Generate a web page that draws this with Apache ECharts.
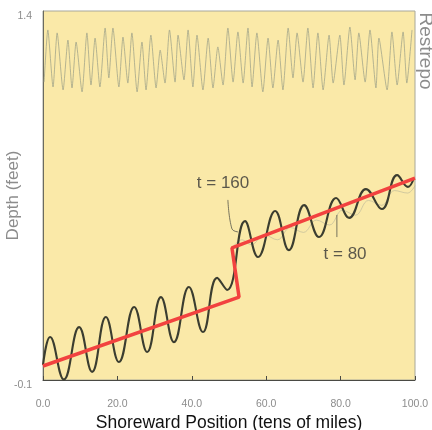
<!DOCTYPE html>
<html>
<head>
<meta charset="utf-8">
<script src="https://cdn.jsdelivr.net/npm/echarts@6/dist/echarts.min.js"></script>
<style>
html,body{margin:0;padding:0;background:#ffffff;}
#c{width:432px;height:430px;}
</style>
</head>
<body>
<div id="c"></div>
<script>
// Top noisy record (Restrepo) — extrema
const noiseX = [0.3,1.3,2.7,3.8,5.4,6.7,7.8,8.9,10.5,11.8,12.9,14.0,15.3,16.7,17.7,18.8,20.4,21.5,22.8,23.9,25.3,26.6,27.7,29.0,30.4,31.5,32.8,34.0,35.5,36.3,37.9,39.0,40.3,41.4,43.0,44.4,45.7,47.0,48.4,49.7,51.1,52.4,53.8,55.1,56.2,57.5,59.1,60.5,61.8,63.2,64.5,65.9,67.2,68.3,69.9,71.2,72.6,73.9,75.3,76.9,78.0,79.8,80.9,82.5,83.9,84.9,86.6,87.9,89.5,90.3,92.5,93.8,95.2,96.8,97.8,99.2];
const noiseY = [1.111,1.323,1.091,1.311,1.079,1.282,1.087,1.274,1.071,1.311,1.099,1.290,1.091,1.331,1.128,1.331,1.091,1.294,1.107,1.311,1.071,1.274,1.079,1.302,1.087,1.241,1.107,1.323,1.111,1.302,1.120,1.323,1.091,1.302,1.079,1.290,1.087,1.254,1.099,1.331,1.111,1.315,1.107,1.331,1.091,1.311,1.071,1.290,1.087,1.282,1.079,1.331,1.128,1.311,1.111,1.331,1.087,1.311,1.079,1.302,1.107,1.302,1.099,1.335,1.120,1.311,1.111,1.323,1.087,1.290,1.079,1.315,1.099,1.315,1.107,1.323];

// Dark oscillating profile (t = 80)
const waveX = [0,1.9,5.6,9.7,13.2,16.9,20.4,24.5,28.0,31.7,35.2,39.2,43.0,46.8,49.5,54.3,57.8,62.4,66.1,70.2,74.2,78.8,82.3,86.8,91.1,95.2,98.1,99.7];
const waveY = [-0.039,0.075,-0.098,0.115,-0.067,0.156,-0.027,0.197,0.014,0.237,0.054,0.278,0.095,0.315,0.266,0.546,0.400,0.587,0.428,0.611,0.481,0.640,0.559,0.676,0.595,0.733,0.685,0.721];

// Faint profile (t = 160)
const faintX = [51.0,53.5,56.0,59.5,63.0,66.5,70.0,73.5,77.0,80.5,84.0,87.5,91.0,94.5,98.0,100];
const faintY = [0.44,0.47,0.45,0.49,0.47,0.52,0.50,0.55,0.53,0.59,0.57,0.63,0.61,0.67,0.66,0.69];

// Red step trend
const stepX = [0,52.7,50.8,100];
const stepY = [-0.043,0.237,0.437,0.721];

// Annotations
const annText = ['t = 160','t = 80'];
const annX = [48.4,81.2];
const annY = [0.701,0.412];
const lead160X = [49.7,50.8,52.4];
const lead160Y = [0.632,0.514,0.502];
const lead80X = [79.0,79.0];
const lead80Y = [0.571,0.481];

const xTicks = [0,20,40,60,80,100];
const yTicks = [-0.1,1.4];

const zip = (a,b)=>a.map((v,i)=>[v,b[i]]);
const FF = 'Liberation Sans, Arial, sans-serif';

const chart = echarts.init(document.getElementById('c'));
chart.setOption({
  animation:false,
  backgroundColor:'#ffffff',
  grid:{left:43,right:17,top:11,bottom:50,containLabel:false,outerBoundsMode:'none',
    show:true,backgroundColor:'#fae9a8',borderColor:'#a8a89a',borderWidth:1},
  xAxis:{
    type:'value',min:0,max:100,interval:20,
    name:'Shoreward Position (tens of miles)',nameLocation:'middle',nameGap:34,nameMoveOverlap:false,
    nameTextStyle:{color:'#111',fontSize:17.5,fontFamily:FF},
    axisLine:{show:true,onZero:false,lineStyle:{color:'#4a4a44',width:1}},
    axisTick:{show:true,inside:true,length:4,lineStyle:{color:'#4a4a44'}},
    axisLabel:{color:'#8c8c8c',fontSize:10.5,margin:19,fontFamily:FF,
      customValues:xTicks,formatter:v=>v.toFixed(1)},
    splitLine:{show:false}
  },
  yAxis:{
    type:'value',min:-0.1,max:1.4,
    name:'Depth (feet)',nameLocation:'middle',nameGap:21,nameMoveOverlap:false,
    nameTextStyle:{color:'#8c8c8c',fontSize:17,fontFamily:FF},
    axisLine:{show:true,onZero:false,lineStyle:{color:'#6a6a60',width:1}},
    axisTick:{show:false},
    axisLabel:{color:'#8c8c8c',fontSize:10.5,margin:11,verticalAlign:'top',fontFamily:FF,
      customValues:yTicks,formatter:v=>v.toFixed(1)},
    splitLine:{show:false}
  },
  graphic:[{
    type:'text',x:425,y:51,rotation:-Math.PI/2,
    style:{text:'Restrepo',fill:'#8c8c8c',font:'19px "Liberation Sans", Arial, sans-serif',align:'center',verticalAlign:'middle'}
  }],
  series:[
    {type:'line',data:zip(noiseX,noiseY),showSymbol:false,smooth:0.2,
      lineStyle:{color:'#a3a68a',width:0.8},z:2},
    {type:'line',data:zip(faintX,faintY),showSymbol:false,smooth:0.4,
      lineStyle:{color:'#b9b798',width:0.8,opacity:0.8},z:2},
    {type:'line',data:zip(waveX,waveY),showSymbol:false,smooth:0.45,
      lineStyle:{color:'#3b3d30',width:2.1},z:3},
    {type:'line',data:zip(stepX,stepY),showSymbol:false,
      lineStyle:{color:'#f2423f',width:3.5},z:4},
    {type:'line',data:zip(lead160X,lead160Y),showSymbol:false,smooth:0.4,
      lineStyle:{color:'#55554a',width:0.8},z:3},
    {type:'line',data:zip(lead80X,lead80Y),showSymbol:false,
      lineStyle:{color:'#55554a',width:0.8},z:3},
    {type:'scatter',data:annX.map((x,i)=>({value:[x,annY[i]],name:annText[i]})),symbolSize:0,
      label:{show:true,position:'inside',formatter:p=>p.name,color:'#333',fontSize:17,fontFamily:FF},z:5}
  ]
});
</script>
</body>
</html>
